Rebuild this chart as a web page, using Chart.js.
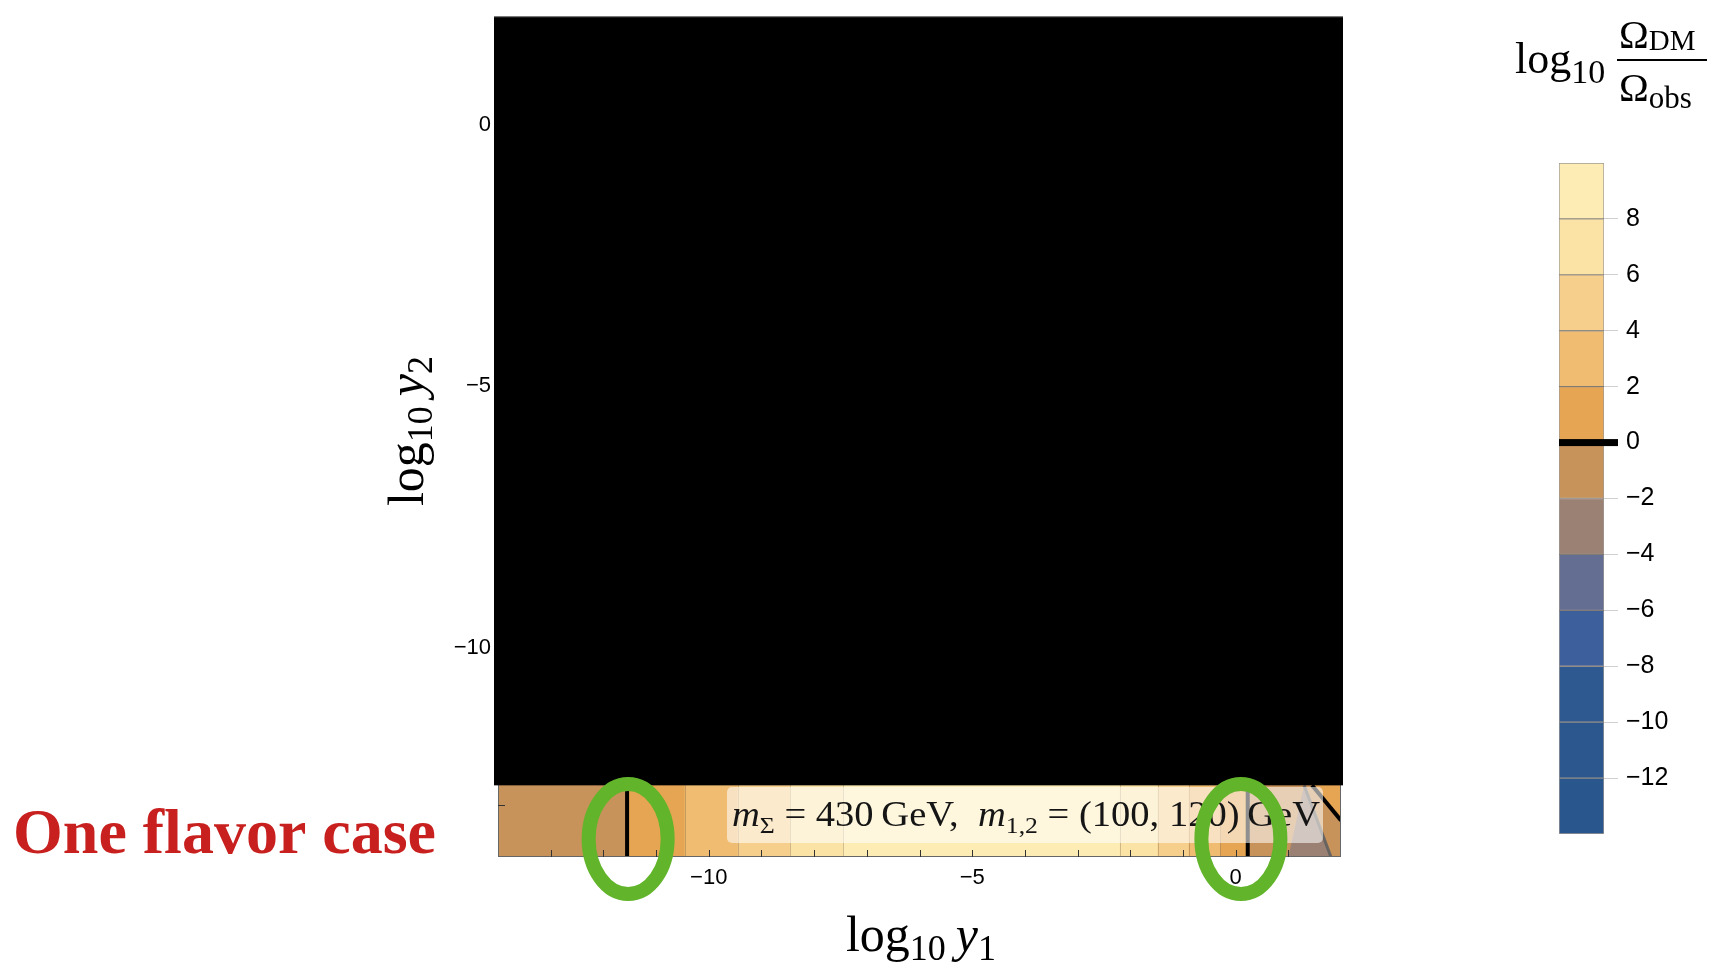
<!DOCTYPE html>
<html>
<head>
<meta charset="utf-8">
<script src="https://cdn.jsdelivr.net/npm/chart.js@4.4.1/dist/chart.umd.min.js"></script>
<style>
  html, body { margin: 0; padding: 0; background: #fff; }
  #wrap { position: relative; width: 1716px; height: 970px; overflow: hidden; }
  #main { position: absolute; left: 0; top: 0; }
  #bar { position: absolute; left: 1540px; top: 140px; }
</style>
</head>
<body>
<div id="wrap">
  <canvas id="main" width="1716" height="970"></canvas>
  <canvas id="bar" width="176" height="720"></canvas>
</div>
<script>
// ---- data ----
// plot range, both axes in log10 units
const axisMin = -14;
const axisMax = 2;
const axisTicks = [-10, -5, 0];
const minorTicks = [-13, -12, -11, -10, -9, -8, -7, -6, -5, -4, -3, -2, -1, 0, 1];

// log10(Ω_DM/Ω_obs) bands along log10 y1 in the visible bottom strip
const bandEdges = [-14, -11.55, -10.46, -9.45, -8.46, -7.45, -2.2, -1.48, -0.89, -0.29, 0.23, 2];
const bandValues = [-1, 1, 3, 5, 7, 9, 7, 5, 3, 1, -1];

// Ω_DM = Ω_obs contours (thick black lines) at log10 y1
const obsLines = [-11.55, 0.23];
// where the green rings are centred (log10 y1)
const ringCenters = [-11.53, 0.1];

// contours in the lower right corner
const minus2LineX = [1.3, 1.81];
const minus2LineY = [-12.63, -14];
const minus2PatchX = [1.0, 1.3, 1.81];
const minus2PatchY = [-14, -12.63, -14];
const zeroLineX = [1.45, 2];
const zeroLineY = [-12.63, -13.3];

// upper part of the plot is blacked out from here up
const maskFrom = -12.63;

// colour bar
const levelEdges = [-14, -12, -10, -8, -6, -4, -2, 0, 2, 4, 6, 8, 10];
const levelColors = ['#29568c', '#2b578e', '#2e5990', '#3d5f9c', '#646e93', '#9b8173',
                     '#c8935a', '#e6a552', '#efbc71', '#f7cf8c', '#fbe3a6', '#fdedb5'];
const barTicks = [-12, -10, -8, -6, -4, -2, 0, 2, 4, 6, 8];

// ---- helpers ----
const SERIF = '"Liberation Serif", "DejaVu Serif", serif';
const SANS = '"Liberation Sans", Arial, sans-serif';
Chart.defaults.font.family = SANS;

const fmt = v => String(v).replace('-', '\u2212');

function levelColor(v) {
  for (let i = 0; i < levelColors.length; i++) {
    if (v >= levelEdges[i] && v < levelEdges[i + 1]) return levelColors[i];
  }
  return levelColors[levelColors.length - 1];
}

function richWidth(ctx, parts) {
  let w = 0;
  parts.forEach(p => { ctx.font = p[1]; w += ctx.measureText(p[0]).width; });
  return w;
}

function drawRich(ctx, x, y, parts) {
  let cx = x;
  parts.forEach(p => {
    ctx.font = p[1];
    ctx.fillText(p[0], cx, y + (p[2] || 0));
    cx += ctx.measureText(p[0]).width;
  });
}

function polygon(ctx, xs, ys, sx, sy) {
  ctx.beginPath();
  xs.forEach((v, i) => {
    const px = sx.getPixelForValue(v), py = sy.getPixelForValue(ys[i]);
    if (i === 0) ctx.moveTo(px, py); else ctx.lineTo(px, py);
  });
  ctx.closePath();
}

// ---- main plot ----
const stripPlugin = {
  id: 'strip',
  beforeDatasetsDraw(chart) {
    const { ctx, chartArea: a, scales: { x, y } } = chart;
    ctx.save();
    ctx.beginPath();
    ctx.rect(a.left, a.top, a.width, a.height);
    ctx.clip();

    for (let i = 0; i < bandValues.length; i++) {
      const x0 = x.getPixelForValue(bandEdges[i]);
      const x1 = x.getPixelForValue(bandEdges[i + 1]);
      ctx.fillStyle = levelColor(bandValues[i]);
      ctx.fillRect(x0, a.top, x1 - x0 + 0.5, a.height);
    }

    // orange corner beyond the zero contour
    polygon(ctx, zeroLineX.concat([2]), zeroLineY.concat([maskFrom]), x, y);
    ctx.fillStyle = levelColor(1);
    ctx.fill();

    polygon(ctx, minus2PatchX, minus2PatchY, x, y);
    ctx.fillStyle = levelColor(-3);
    ctx.fill();

    // faint contour edges
    ctx.strokeStyle = 'rgba(70,50,30,0.25)';
    ctx.lineWidth = 1;
    bandEdges.slice(1, -1).forEach(v => {
      const px = Math.round(x.getPixelForValue(v)) + 0.5;
      ctx.beginPath();
      ctx.moveTo(px, a.top);
      ctx.lineTo(px, a.bottom);
      ctx.stroke();
    });
    ctx.restore();
  },
  afterDatasetsDraw(chart) {
    const { ctx, chartArea: a, scales: { x, y } } = chart;
    ctx.save();

    // frame + inward ticks
    ctx.strokeStyle = '#666';
    ctx.lineWidth = 1;
    ctx.strokeRect(a.left + 0.5, a.top + 0.5, a.width - 1, a.height - 1);
    ctx.strokeStyle = '#333';
    minorTicks.forEach(v => {
      const px = Math.round(x.getPixelForValue(v)) + 0.5;
      ctx.beginPath();
      ctx.moveTo(px, a.bottom);
      ctx.lineTo(px, a.bottom - 7);
      ctx.stroke();
      const py = Math.round(y.getPixelForValue(v)) + 0.5;
      ctx.beginPath();
      ctx.moveTo(a.left, py);
      ctx.lineTo(a.left + 7, py);
      ctx.stroke();
    });

    // black mask over the upper part
    const maskBottom = y.getPixelForValue(maskFrom);
    ctx.fillStyle = '#000';
    ctx.fillRect(a.left - 4, a.top - 4, a.width + 6, maskBottom - a.top + 4);
    ctx.fillStyle = '#8a8a8a';
    ctx.fillRect(a.left - 4, a.top - 4, a.width + 6, 1);

    // label box
    const bx = 727, bw = 596, by = Math.round(maskBottom) + 2, bh = 56;
    ctx.fillStyle = 'rgba(255,255,255,0.56)';
    ctx.beginPath();
    ctx.roundRect(bx, by, bw, bh, 5);
    ctx.fill();
    ctx.fillStyle = '#151515';
    ctx.textBaseline = 'alphabetic';
    const big = '36px ' + SERIF, it = 'italic 36px ' + SERIF, sub = '24px ' + SERIF;
    const parts = [['m', it], ['\u03a3', sub, 7], [' = 430\u2009GeV,  ', big],
                   ['m', it], ['1,2', sub, 7], [' = (100, 120)\u2009GeV', big]];
    const w = richWidth(ctx, parts);
    ctx.save();
    ctx.translate(732, by + 39);
    ctx.scale(588 / w, 1);
    drawRich(ctx, 0, 0, parts);
    ctx.restore();

    // green rings around the Ω = Ω_obs lines
    ctx.strokeStyle = '#62b42a';
    ctx.lineWidth = 14;
    ringCenters.forEach(v => {
      ctx.beginPath();
      ctx.ellipse(x.getPixelForValue(v), a.bottom - 18, 39.5, 55, 0, 0, Math.PI * 2);
      ctx.stroke();
    });
    ctx.restore();
  },
  afterDraw(chart) {
    const { ctx } = chart;
    ctx.save();
    ctx.fillStyle = '#000';
    ctx.textBaseline = 'alphabetic';

    // x title
    const xt = [['log', '50px ' + SERIF], ['10', '36px ' + SERIF, 9], ['\u2009', '50px ' + SERIF],
                ['y', 'italic 50px ' + SERIF], ['1', '36px ' + SERIF, 9]];
    drawRich(ctx, 921 - richWidth(ctx, xt) / 2, 951, xt);

    // y title
    const yt = [['log', '50px ' + SERIF], ['10', '36px ' + SERIF, 9], ['\u2009', '50px ' + SERIF],
                ['y', 'italic 50px ' + SERIF], ['2', '36px ' + SERIF, 9]];
    ctx.save();
    ctx.translate(423, 431);
    ctx.rotate(-Math.PI / 2);
    drawRich(ctx, -richWidth(ctx, yt) / 2, 0, yt);
    ctx.restore();

    // colour bar title
    drawRich(ctx, 1515, 73, [['log', '44px ' + SERIF], ['10', '34px ' + SERIF, 10]]);
    drawRich(ctx, 1619, 48, [['\u03a9', '40px ' + SERIF], ['DM', '29px ' + SERIF, 2]]);
    ctx.fillRect(1617, 59, 90, 2);
    drawRich(ctx, 1619, 101, [['\u03a9', '40px ' + SERIF], ['obs', '31px ' + SERIF, 7]]);

    // side caption
    ctx.fillStyle = '#c8201e';
    ctx.font = 'bold 64px ' + SERIF;
    ctx.fillText('One flavor case', 13, 853);
    ctx.restore();
  }
};

const lineSets = obsLines.map(v => ({
  data: [{ x: v, y: axisMin }, { x: v, y: axisMax }],
  borderColor: '#000', borderWidth: 4
}));
lineSets.push({
  data: minus2LineX.map((v, i) => ({ x: v, y: minus2LineY[i] })),
  borderColor: 'rgba(95,95,95,0.9)', borderWidth: 3
});
lineSets.push({
  data: zeroLineX.map((v, i) => ({ x: v, y: zeroLineY[i] })),
  borderColor: '#000', borderWidth: 4
});

new Chart(document.getElementById('main'), {
  type: 'scatter',
  data: {
    datasets: lineSets.map(d => Object.assign({ showLine: true, pointRadius: 0, fill: false }, d))
  },
  options: {
    responsive: false,
    animation: false,
    layout: { padding: { left: 0, top: 19, right: 375, bottom: 53 } },
    plugins: { legend: { display: false }, tooltip: { enabled: false } },
    scales: {
      x: {
        type: 'linear', min: axisMin, max: axisMax,
        afterFit: s => { s.height = 60; },
        afterBuildTicks: s => { s.ticks = axisTicks.map(v => ({ value: v })); },
        grid: { display: false, drawTicks: false },
        border: { display: false },
        ticks: { padding: 8, color: '#000', font: { size: 22 }, callback: fmt, maxRotation: 0 }
      },
      y: {
        type: 'linear', min: axisMin, max: axisMax,
        afterFit: s => { s.width = 498; },
        afterBuildTicks: s => { s.ticks = axisTicks.map(v => ({ value: v })); },
        grid: { display: false, drawTicks: false },
        border: { display: false },
        ticks: { padding: 7, color: '#000', font: { size: 22 }, callback: fmt }
      }
    }
  },
  plugins: [stripPlugin]
});

// ---- colour bar ----
const zeroMark = {
  id: 'zeroMark',
  afterDatasetsDraw(chart) {
    const { ctx, chartArea: a, scales: { y } } = chart;
    const y0 = y.getPixelForValue(0);
    ctx.save();
    ctx.fillStyle = '#000';
    ctx.fillRect(a.left, y0 - 3.5, a.width + 14, 7);
    ctx.restore();
  }
};

new Chart(document.getElementById('bar'), {
  type: 'bar',
  data: {
    labels: [''],
    datasets: levelColors.map((c, i) => ({
      data: [[levelEdges[i], levelEdges[i + 1]]],
      backgroundColor: c,
      borderColor: 'rgba(40,30,20,0.45)',
      borderWidth: 1,
      borderSkipped: false,
      grouped: false,
      barPercentage: 1,
      categoryPercentage: 1
    }))
  },
  options: {
    responsive: false,
    animation: false,
    layout: { padding: { left: 19, top: 23, right: 0, bottom: 26 } },
    plugins: { legend: { display: false }, tooltip: { enabled: false } },
    scales: {
      x: { display: false },
      y: {
        position: 'right', min: -14, max: 10,
        afterFit: s => { s.width = 112; },
        afterBuildTicks: s => { s.ticks = barTicks.map(v => ({ value: v })); },
        grid: { drawOnChartArea: false, drawTicks: true, tickLength: 14, color: '#cfcfcf' },
        border: { display: false },
        ticks: { padding: 8, color: '#000', font: { size: 25 }, callback: fmt }
      }
    }
  },
  plugins: [zeroMark]
});
</script>
</body>
</html>
